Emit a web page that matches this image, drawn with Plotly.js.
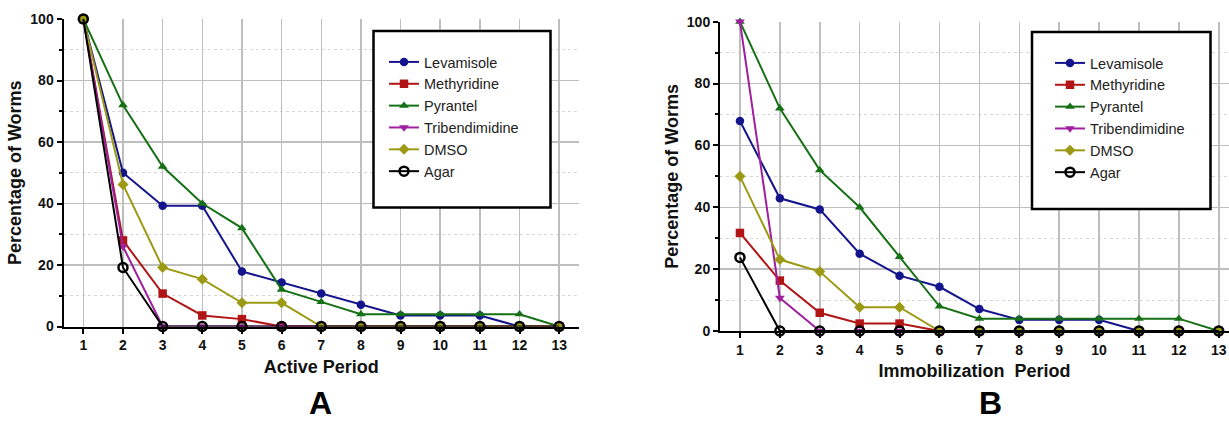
<!DOCTYPE html>
<html>
<head>
<meta charset="utf-8">
<script src="https://cdn.plot.ly/plotly-3.0.1.min.js"></script>
<style>html,body{margin:0;padding:0;background:#fff;}#chart{width:1229px;height:421px;}</style>
</head>
<body>
<div id="chart"></div>
<script>
const periods = [1, 2, 3, 4, 5, 6, 7, 8, 9, 10, 11, 12, 13];
const seriesNames = ['Levamisole', 'Methyridine', 'Pyrantel', 'Tribendimidine', 'DMSO', 'Agar'];

// Panel A: Active Period
const levamisoleA     = [100, 50, 39.3, 39.3, 17.9, 14.3, 10.7, 7.1, 3.6, 3.6, 3.6, 0, 0];
const methyridineA    = [100, 28, 10.7, 3.6, 2.4, 0, 0, 0, 0, 0, 0, 0, 0];
const pyrantelA       = [100, 72, 52, 40, 32, 12, 8, 4, 4, 4, 4, 4, 0];
const tribendimidineA = [100, 26, 0, 0, 0, 0, 0, 0, 0, 0, 0, 0, 0];
const dmsoA           = [100, 46.2, 19.2, 15.4, 7.7, 7.7, 0, 0, 0, 0, 0, 0, 0];
const agarA           = [100, 19.2, 0, 0, 0, 0, 0, 0, 0, 0, 0, 0, 0];

// Panel B: Immobilization Period
const levamisoleB     = [67.9, 42.9, 39.3, 25, 17.9, 14.3, 7.1, 3.6, 3.6, 3.6, 0, 0, 0];
const methyridineB    = [31.7, 16.3, 5.9, 2.4, 2.4, 0, 0, 0, 0, 0, 0, 0, 0];
const pyrantelB       = [100, 72, 52, 40, 24, 8, 4, 4, 4, 4, 4, 4, 0];
const tribendimidineB = [100, 10.7, 0, 0, 0, 0, 0, 0, 0, 0, 0, 0, 0];
const dmsoB           = [50, 23.1, 19.2, 7.7, 7.7, 0, 0, 0, 0, 0, 0, 0, 0];
const agarB           = [23.8, 0, 0, 0, 0, 0, 0, 0, 0, 0, 0, 0, 0];

const colors  = ['#14148c', '#b01414', '#167016', '#a01ea0', '#9c9a14', '#000000'];
const symbols = ['circle', 'square', 'triangle-up', 'triangle-down', 'diamond', 'circle-open'];

const dataA = [levamisoleA, methyridineA, pyrantelA, tribendimidineA, dmsoA, agarA];
const dataB = [levamisoleB, methyridineB, pyrantelB, tribendimidineB, dmsoB, agarB];

const traces = [];
function addPanel(values, xa, ya, legendId) {
  values.forEach((ys, i) => {
    const open = symbols[i] === 'circle-open';
    traces.push({
      type: 'scatter', mode: 'lines+markers',
      x: periods, y: ys, name: seriesNames[i],
      xaxis: xa, yaxis: ya, legend: legendId,
      cliponaxis: false,
      line: {color: colors[i], width: 2},
      marker: {
        symbol: symbols[i], color: colors[i],
        size: open ? 9 : 8.5,
        line: {color: colors[i], width: open ? 2.5 : 0}
      }
    });
  });
}
addPanel(dataA, 'x', 'y', 'legend');
addPanel(dataB, 'x2', 'y2', 'legend2');

const W = 1229, H = 421;
const fontFam = '"Liberation Sans", Arial, sans-serif';
const tickFont = {family: fontFam, size: 14, color: '#111', weight: 'bold'};
const titleFont = {family: fontFam, size: 18, color: '#111', weight: 'bold'};
const gridCol = 'rgb(190,190,190)';

function xAxis(domain, range, title, anchor) {
  return {
    domain: domain, range: range, anchor: anchor,
    tickmode: 'linear', tick0: 1, dtick: 1,
    ticks: 'outside', ticklen: 5, tickwidth: 2, tickcolor: '#000',
    showline: true, linecolor: '#000', linewidth: 2,
    showgrid: true, gridcolor: gridCol, gridwidth: 1.5,
    zeroline: false, tickfont: tickFont,
    title: {text: title, font: titleFont, standoff: 8},
    fixedrange: true
  };
}
function yAxis(domain, anchor) {
  return {
    domain: domain, range: [0, 100], anchor: anchor,
    tickmode: 'linear', tick0: 0, dtick: 20,
    ticks: 'outside', ticklen: 5, tickwidth: 2, tickcolor: '#000',
    showline: true, linecolor: '#000', linewidth: 2,
    showgrid: true, gridcolor: gridCol, gridwidth: 1.5,
    zeroline: false, tickfont: tickFont,
    minor: {dtick: 10, ticks: 'outside', ticklen: 3, tickcolor: '#000', showgrid: true, gridcolor: '#d6d6d6', griddash: 'dot', gridwidth: 1},
    title: {text: 'Percentage of Worms', font: titleFont, standoff: 4},
    fixedrange: true
  };
}

const legendFont = {family: fontFam, size: 14.5, color: '#222'};
const layout = {
  width: W, height: H,
  margin: {l: 0, r: 0, t: 0, b: 0},
  paper_bgcolor: '#fff', plot_bgcolor: 'rgba(0,0,0,0)',
  showlegend: true,
  xaxis: xAxis([63.5 / W, 579 / W], [0.5, 13.5], 'Active Period', 'y'),
  yaxis: yAxis([(H - 326.5) / H, (H - 19) / H], 'x'),
  xaxis2: xAxis([720 / W, 1], [0.5, 0.5 + (W - 720) / 39.9], 'Immobilization\u00a0 Period', 'y2'),
  yaxis2: yAxis([(H - 331) / H, (H - 21.7) / H], 'x2'),
  legend: {x: 384 / W, y: 1 - 46 / H, xanchor: 'left', yanchor: 'top', bgcolor: 'rgba(0,0,0,0)', borderwidth: 0, font: legendFont, tracegroupgap: 0},
  legend2: {x: 1050 / W, y: 1 - 47 / H, xanchor: 'left', yanchor: 'top', bgcolor: 'rgba(0,0,0,0)', borderwidth: 0, font: legendFont, tracegroupgap: 0},
  shapes: [
    {type: 'rect', xref: 'paper', yref: 'paper', x0: 373.5 / W, x1: 550.5 / W, y0: 1 - 207.5 / H, y1: 1 - 31 / H, line: {color: '#000', width: 2.5}, fillcolor: '#fff', layer: 'above'},
    {type: 'rect', xref: 'paper', yref: 'paper', x0: 1032 / W, x1: 1210.5 / W, y0: 1 - 209 / H, y1: 1 - 32 / H, line: {color: '#000', width: 2.5}, fillcolor: '#fff', layer: 'above'}
  ],
  annotations: [
    {text: 'A', xref: 'paper', yref: 'paper', x: 320 / W, y: 1 - 403 / H, xanchor: 'center', yanchor: 'middle', showarrow: false, font: {family: fontFam, size: 32, color: '#000', weight: 'bold'}},
    {text: 'B', xref: 'paper', yref: 'paper', x: 990 / W, y: 1 - 403 / H, xanchor: 'center', yanchor: 'middle', showarrow: false, font: {family: fontFam, size: 32, color: '#000', weight: 'bold'}}
  ]
};

Plotly.newPlot('chart', traces, layout, {displayModeBar: false, staticPlot: true});
</script>
</body>
</html>
